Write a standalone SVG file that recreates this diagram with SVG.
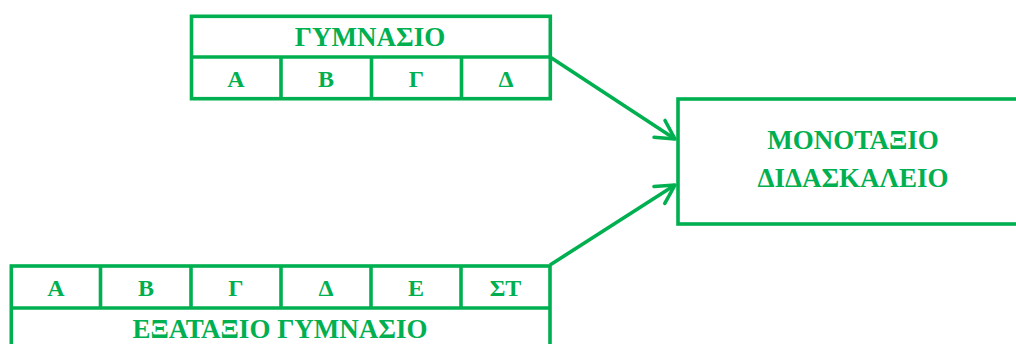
<svg xmlns="http://www.w3.org/2000/svg" width="1016" height="344" viewBox="0 0 1016 344">
<style>
.box{fill:#fff;stroke:#00B050;stroke-width:3.6}
.ln{fill:none;stroke:#00B050;stroke-width:3.6}
.t{font-family:"Liberation Serif","Times New Roman",serif;font-weight:bold;fill:#00B050;text-anchor:middle}
.c{font-size:24px}
.h{font-size:27px}
</style>
<defs>
<marker id="arr" markerUnits="userSpaceOnUse" viewBox="-22 -13 26 26" refX="0" refY="0" markerWidth="26" markerHeight="26" orient="auto">
<path d="M-18.5,-10 L0,0 L-18.5,10" fill="none" stroke="#00B050" stroke-width="3.6" stroke-linecap="round" stroke-linejoin="round"/>
</marker>
</defs>
<rect width="1016" height="344" fill="#fff"/>
<g id="connectors">
<line class="ln" x1="550" y1="57" x2="675" y2="139" marker-end="url(#arr)"/>
<line class="ln" x1="550" y1="265" x2="675" y2="185" marker-end="url(#arr)"/>
</g>
<g id="gymnasio">
<rect class="box" x="191.5" y="16.3" width="358.8" height="82.4"/>
<line class="ln" x1="191.5" y1="57" x2="550.3" y2="57"/>
<line class="ln" x1="281" y1="57" x2="281" y2="98.7"/>
<line class="ln" x1="371.5" y1="57" x2="371.5" y2="98.7"/>
<line class="ln" x1="461.5" y1="57" x2="461.5" y2="98.7"/>
<text class="t h" x="370" y="46">ΓΥΜΝΑΣΙΟ</text>
<text class="t c" x="236" y="86.5">Α</text>
<text class="t c" x="326" y="86.5">Β</text>
<text class="t c" x="416.5" y="86.5">Γ</text>
<text class="t c" x="506" y="86.5">Δ</text>
</g>
<g id="monotaxio">
<rect class="box" x="678" y="99" width="360" height="125"/>
<text class="t h" x="853" y="149">ΜΟΝΟΤΑΞΙΟ</text>
<text class="t h" x="853" y="187">ΔΙΔΑΣΚΑΛΕΙΟ</text>
</g>
<g id="exataxio">
<rect class="box" x="11.3" y="266" width="538.7" height="100"/>
<line class="ln" x1="11.3" y1="308" x2="550" y2="308"/>
<line class="ln" x1="100.5" y1="266" x2="100.5" y2="308"/>
<line class="ln" x1="191" y1="266" x2="191" y2="308"/>
<line class="ln" x1="281" y1="266" x2="281" y2="308"/>
<line class="ln" x1="371" y1="266" x2="371" y2="308"/>
<line class="ln" x1="461" y1="266" x2="461" y2="308"/>
<text class="t c" x="56" y="296">Α</text>
<text class="t c" x="146" y="296">Β</text>
<text class="t c" x="236" y="296">Γ</text>
<text class="t c" x="326" y="296">Δ</text>
<text class="t c" x="416" y="296">Ε</text>
<text class="t c" x="505.5" y="296">ΣΤ</text>
<text class="t h" x="280" y="337.5">ΕΞΑΤΑΞΙΟ ΓΥΜΝΑΣΙΟ</text>
</g>
</svg>
